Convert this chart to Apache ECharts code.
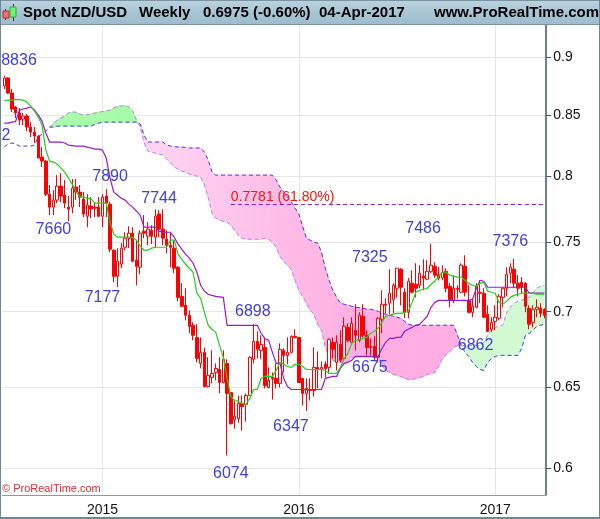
<!DOCTYPE html>
<html>
<head>
<meta charset="utf-8">
<style>
    html, body { margin: 0; padding: 0; background: #fff; }
    #chart { width: 600px; height: 519px; }
</style>
<script src="https://cdn.jsdelivr.net/npm/echarts@6/dist/echarts.min.js"></script>
</head>
<body>
<div id="chart"></div>
<script>
    //每周K线 [open, close, low, high]
    var candles = [
        [.8746,.8816,.8720,.8836],[.8816,.8686,.8678,.8824],[.8686,.8550,.8524,.8720],[.8567,.8516,.8474,.8575],
        [.8516,.8457,.8415,.8558],[.8465,.8491,.8415,.8516],[.8491,.8399,.8366,.8508],[.8399,.8358,.8317,.8440],
        [.8358,.8325,.8268,.8399],[.8325,.8146,.8146,.8333],[.8154,.8122,.8074,.8235],[.8122,.7861,.7846,.8130],
        [.7861,.7761,.7700,.7932],[.7761,.7815,.7700,.7892],[.7815,.7924,.7792,.8010],[.7924,.7846,.7800,.8026],
        [.7853,.7792,.7753,.7971],[.7761,.7746,.7654,.7846],[.7761,.7908,.7715,.7979],[.7916,.7877,.7815,.7979],
        [.7877,.7838,.7761,.7932],[.7823,.7708,.7685,.7877],[.7692,.7777,.7609,.7861],[.7769,.7746,.7677,.7838],
        [.7761,.7753,.7685,.7800],[.7761,.7692,.7685,.7838],[.7692,.7838,.7609,.7861],[.7846,.7792,.7685,.7900],
        [.7784,.7445,.7423,.7800],[.7438,.7249,.7207,.7445],[.7249,.7358,.7171,.7453],[.7336,.7453,.7307,.7490],
        [.7460,.7527,.7438,.7571],[.7527,.7564,.7453,.7616],[.7564,.7358,.7351,.7609],[.7365,.7321,.7185,.7512],
        [.7314,.7564,.7264,.7586],[.7579,.7564,.7527,.7700],[.7542,.7594,.7475,.7647],[.7586,.7542,.7483,.7624],
        [.7534,.7692,.7460,.7744],[.7708,.7594,.7534,.7738],[.7594,.7527,.7475,.7744],[.7519,.7475,.7416,.7586],
        [.7475,.7460,.7314,.7564],[.7453,.7307,.7271,.7512],[.7314,.7100,.7072,.7321],[.7107,.7038,.7031,.7200],
        [.7045,.6976,.6941,.7164],[.6976,.6900,.6853,.7010],[.6907,.6839,.6805,.6927],[.6825,.6685,.6659,.6914],
        [.6652,.6725,.6619,.6825],[.6725,.6502,.6496,.6758],[.6502,.6574,.6496,.6692],[.6561,.6587,.6522,.6738],
        [.6593,.6619,.6541,.6652],[.6612,.6528,.6458,.6692],[.6528,.6679,.6522,.6738],[.6652,.6458,.6074,.6679],
        [.6464,.6268,.6262,.6464],[.6293,.6312,.6237,.6413],[.6300,.6394,.6275,.6445],[.6394,.6375,.6225,.6445],
        [.6388,.6445,.6281,.6458],[.6445,.6692,.6445,.6699],[.6679,.6798,.6652,.6914],[.6798,.6745,.6685,.6866],
        [.6738,.6778,.6679,.6839],[.6758,.6509,.6490,.6818],[.6496,.6541,.6490,.6626],[.6561,.6554,.6419,.6593],
        [.6554,.6522,.6490,.6652],[.6522,.6745,.6496,.6785],[.6738,.6705,.6593,.6751],[.6705,.6725,.6646,.6825],
        [.6725,.6832,.6718,.6839],[.6832,.6825,.6818,.6880],[.6825,.6528,.6528,.6825],[.6554,.6458,.6382,.6554],
        [.6458,.6490,.6347,.6554],[.6483,.6477,.6413,.6554],[.6477,.6626,.6438,.6758],[.6626,.6612,.6490,.6731],
        [.6612,.6626,.6554,.6665],[.6646,.6619,.6561,.6665],[.6626,.6812,.6587,.6818],[.6792,.6745,.6685,.6825],
        [.6659,.6792,.6606,.6839],[.6778,.6672,.6659,.6873],[.6685,.6900,.6672,.6962],[.6893,.6805,.6792,.6920],
        [.6792,.6920,.6785,.6962],[.6873,.6839,.6738,.7052],[.6805,.6976,.6792,.6996],[.6969,.6839,.6825,.7052],
        [.6839,.6758,.6705,.6873],[.6765,.6758,.6705,.6818],[.6765,.6692,.6675,.6832],[.6692,.6955,.6659,.6962],
        [.6948,.7052,.6853,.7150],[.7052,.7045,.6989,.7093],[.7059,.7129,.6983,.7300],[.7086,.7185,.6989,.7200],
        [.7164,.7307,.7100,.7307],[.7300,.7171,.7045,.7307],[.7136,.6996,.6955,.7164],[.6996,.7214,.6955,.7236],
        [.7200,.7136,.7129,.7292],[.7193,.7164,.7100,.7343],[.7185,.7271,.7164,.7329],[.7249,.7236,.7150,.7372],
        [.7228,.7285,.7221,.7365],[.7285,.7329,.7271,.7486],[.7321,.7257,.7236,.7351],[.7264,.7236,.7221,.7314],
        [.7236,.7278,.7221,.7329],[.7285,.7164,.7136,.7307],[.7178,.7079,.7031,.7200],[.7079,.7164,.7059,.7257],
        [.7164,.7157,.7093,.7185],[.7136,.7329,.7129,.7343],[.7321,.7136,.7107,.7401],[.7079,.6996,.6989,.7185],
        [.6996,.7038,.6962,.7093],[.7031,.7178,.7024,.7200],[.7136,.7129,.7059,.7221],[.7129,.6962,.6955,.7164],
        [.6983,.6866,.6862,.7045],[.6880,.6927,.6862,.6962],[.6934,.6962,.6873,.7045],[.6955,.7107,.6941,.7122],
        [.7100,.7164,.7031,.7171],[.7164,.7264,.7107,.7314],[.7271,.7314,.7200,.7343],[.7300,.7200,.7164,.7376],
        [.7200,.7164,.7107,.7257],[.7207,.7171,.7129,.7243],[.7200,.7038,.6996,.7207],[.7024,.6914,.6880,.7045],
        [.6927,.7017,.6893,.7045],[.7017,.7031,.6962,.7086],[.7024,.6989,.6962,.7059],[.7017,.6975,.6955,.7024]
    ];

    var tenkan = [
        .8622,.8626,.8626,.8630,.8630,.8626,.8609,.8575,.8533,.8482,.8415,.8210,.8122,.8114,.8098,.8066,
        .8034,.7987,.7939,.7877,.7846,.7838,.7830,.7823,.7792,.7792,.7792,.7792,.7647,.7556,.7534,.7534,
        .7534,.7534,.7534,.7512,.7468,.7438,.7438,.7453,.7460,.7460,.7460,.7460,.7512,.7512,.7409,.7372,
        .7336,.7307,.7278,.7129,.7093,.6996,.6907,.6880,.6859,.6771,.6692,.6554,.6438,.6413,.6407,.6394,
        .6388,.6426,.6483,.6483,.6554,.6567,.6567,.6567,.6606,.6659,.6646,.6632,.6626,.6646,.6646,.6632,
        .6612,.6612,.6612,.6612,.6612,.6606,.6587,.6587,.6587,.6626,.6685,.6718,.6785,.6805,.6812,.6818,
        .6825,.6853,.6866,.6887,.6927,.6969,.6976,.6983,.6989,.6989,.6996,.7003,.7065,.7136,.7150,.7157,
        .7164,.7193,.7214,.7249,.7278,.7278,.7257,.7249,.7243,.7243,.7221,.7200,.7185,.7178,.7200,.7207,
        .7143,.7136,.7129,.7065,.7052,.7072,.7100,.7114,.7122,.7129,.7129,.7129,.7129,.7122,.7122,.7122
    ];

    var kijun = [
        .8432,.8432,.8440,.8445,.8541,.8550,.8558,.8567,.8541,.8499,.8449,.8350,.8276,.8276,.8276,.8276,
        .8268,.8251,.8247,.8243,.8243,.8243,.8235,.8227,.8218,.8218,.8210,.8146,.7987,.7877,.7853,.7830,
        .7815,.7784,.7761,.7730,.7700,.7609,.7609,.7609,.7609,.7579,.7571,.7571,.7571,.7534,.7483,.7445,
        .7409,.7380,.7343,.7278,.7185,.7143,.7122,.7114,.7107,.7104,.7100,.6907,.6907,.6907,.6907,.6907,
        .6907,.6907,.6907,.6907,.6853,.6818,.6805,.6725,.6652,.6652,.6554,.6502,.6483,.6483,.6483,.6483,
        .6483,.6483,.6483,.6483,.6483,.6554,.6561,.6567,.6567,.6619,.6652,.6659,.6672,.6698,.6698,.6698,
        .6698,.6698,.6698,.6698,.6751,.6792,.6818,.6818,.6825,.6825,.6866,.6880,.6893,.6907,.6914,.6941,
        .6969,.7031,.7065,.7079,.7079,.7079,.7079,.7079,.7079,.7079,.7079,.7079,.7086,.7164,.7221,.7214,
        .7171,.7171,.7171,.7171,.7171,.7171,.7171,.7171,.7171,.7171,.7171,.7129,.7129,.7129,.7129,.7129
    ];

    //云层上下两条线
    var spanBlue = [
        .8235,.8260,.8268,.8260,.8243,.8243,.8243,.8243,.8251,.8317,.8342,.8366,.8399,.8399,.8407,.8407,
        .8407,.8407,.8407,.8407,.8407,.8407,.8407,.8407,.8424,.8432,.8440,.8440,.8440,.8440,.8440,.8440,
        .8440,.8440,.8440,.8440,.8424,.8333,.8276,.8276,.8276,.8276,.8276,.8251,.8243,.8239,.8235,.8235,
        .8231,.8227,.8227,.8227,.8227,.8194,.8130,.8034,.8010,.8010,.8010,.8010,.8010,.8010,.8010,.8010,
        .8010,.8010,.8010,.8010,.8010,.8010,.8010,.8010,.7971,.7916,.7877,.7838,.7800,.7753,.7708,.7616,
        .7527,.7512,.7497,.7490,.7423,.7307,.7221,.7150,.7100,.7059,.7052,.7045,.7038,.7031,.7028,.7024,
        .7017,.7017,.7010,.7003,.6989,.6983,.6976,.6969,.6962,.6955,.6934,.6914,.6907,.6907,.6907,.6907,
        .6907,.6907,.6907,.6907,.6907,.6907,.6907,.6907,.6839,.6771,.6725,.6698,.6659,.6632,.6612,.6606,
        .6659,.6685,.6698,.6705,.6705,.6705,.6705,.6705,.6705,.6751,.6839,.6853,.6873,.6900,.6907,.6914
    ];

    var spanViolet = [
        null,null,null,null,null,null,null,null,null,null,null,null,.8399,.8424,.8457,.8474,
        .8491,.8516,.8524,.8524,.8508,.8499,.8503,.8508,.8516,.8524,.8528,.8533,.8541,.8558,.8575,.8575,
        .8579,.8567,.8533,.8457,.8399,.8276,.8202,.8194,.8186,.8178,.8170,.8138,.8106,.8074,.8058,.8042,
        .8034,.8018,.8010,.8002,.7995,.7932,.7838,.7715,.7677,.7662,.7654,.7647,.7624,.7586,.7549,.7527,
        .7519,.7519,.7519,.7519,.7519,.7527,.7519,.7497,.7460,.7394,.7358,.7329,.7300,.7221,.7150,.7107,
        .7059,.7010,.6983,.6914,.6873,.6765,.6692,.6672,.6665,.6659,.6652,.6672,.6692,.6695,.6695,.6695,
        .6695,.6695,.6695,.6685,.6639,.6606,.6593,.6580,.6574,.6567,.6554,.6548,.6548,.6554,.6561,.6567,
        .6580,.6587,.6593,.6632,.6685,.6711,.6731,.6758,.6771,.6771,.6771,.6771,.6771,.6771,.6771,.6792,
        .6839,.6880,.6893,.6900,.6907,.6989,.7031,.7059,.7072,.7079,.7093,.7100,.7129,.7164,.7178,.7185
    ];

    var priceTicks = [0.6, 0.65, 0.7, 0.75, 0.8, 0.85, 0.9];
    var yearTicks = ['2015-01-05', '2016-01-04', '2017-01-02'];

    //波段标注
    var pivotText = ['8836', '2', '7890', '7744', '7660', '7177', '6898', '6074', '6347', '7325', '7486', '6675', '7376', '6862'];
    var pivotWeek = [3.9, 0.45, 28, 41, 13, 26, 65.8, 60, 75.9, 96.8, 110.9, 96.8, 134, 124.8];
    var pivotPrice = [.8965, .8332, .7995, .7830, .7594, .7100, .7003, .5969, .6252, .7382, .7601, .6626, .7505, .6771];

    var fibPrice = 0.7781;
    var fibStart = 60;
    var fibText = '0.7781 (61.80%)';

    //周线日期
    var weeks = [];
    for (var w = 0; w < candles.length; w++) {
        weeks.push(new Date(Date.UTC(2014, 6, 7 + w * 7)).toISOString().slice(0, 10));
    }

    var pivots = [];
    for (var p = 0; p < pivotText.length; p++) {
        pivots.push({ value: [pivotWeek[p], pivotPrice[p]], label: { formatter: pivotText[p] } });
    }

    function isYearTick(index, value) {
        return yearTicks.indexOf(value) >= 0;
    }

    //粉色从左到右逐渐加深
    function cloudColor(i, isGreen) {
        if (isGreen) return i < 60 ? '#a8fba8' : '#d2fad2';
        var t = Math.max(0, Math.min(1, (i - 40) / 55));
        var g = Math.round(0xd3 + (0xae - 0xd3) * t);
        var b = Math.round(0xf0 + (0xe2 - 0xf0) * t);
        return 'rgb(254,' + g + ',' + b + ')';
    }

    function polygon(points, color) {
        return {
            type: 'polygon',
            shape: { points: points },
            style: { fill: color, stroke: color, lineWidth: 1 }
        };
    }

    //云层填充,穿越处拆成两个三角形
    function renderCloud(params, api) {
        var i = params.dataIndex;
        var a0 = spanViolet[i], a1 = spanViolet[i + 1];
        if (a0 == null || a1 == null) return;
        var b0 = spanBlue[i], b1 = spanBlue[i + 1];
        var pa0 = api.coord([i, a0]), pa1 = api.coord([i + 1, a1]);
        var pb0 = api.coord([i, b0]), pb1 = api.coord([i + 1, b1]);
        var d0 = pb0[1] - pa0[1], d1 = pb1[1] - pa1[1];
        if (d0 * d1 >= 0) {
            return polygon([pa0, pa1, pb1, pb0], cloudColor(i, d0 + d1 > 0));
        }
        var t = d0 / (d0 - d1);
        var cross = [pa0[0] + (pa1[0] - pa0[0]) * t, pa0[1] + (pa1[1] - pa0[1]) * t];
        return {
            type: 'group',
            children: [
                polygon([pa0, cross, pb0], cloudColor(i, d0 > 0)),
                polygon([cross, pa1, pb1], cloudColor(i, d1 > 0))
            ]
        };
    }

    function headerText(text, x) {
        return {
            type: 'text', x: x, y: 13, z: 10,
            style: { text: text, fill: '#000', font: 'bold 15px "Liberation Sans", Arial, sans-serif', textVerticalAlign: 'middle' }
        };
    }

    var chart = echarts.init(document.getElementById('chart'), null, { renderer: 'canvas' });
    chart.setOption({
        animation: false,
        backgroundColor: '#fff',
        grid: { left: 2.4, top: 25, width: 543.8, height: 470 },
        xAxis: [
            {
                type: 'category',
                data: weeks,
                position: 'bottom',
                axisLine: { onZero: false, lineStyle: { color: '#8a9aa6', width: 1 } },
                axisTick: { alignWithLabel: true, interval: isYearTick, length: 5, lineStyle: { color: '#555' } },
                axisLabel: {
                    interval: isYearTick,
                    formatter: function (v) { return v.slice(0, 4); },
                    color: '#111', fontSize: 14, fontFamily: 'Liberation Sans', margin: 8
                },
                splitLine: { show: true, interval: isYearTick, alignWithLabel: true, lineStyle: { color: '#e6e6e6', width: 1 } }
            },
            { type: 'value', show: false, min: -0.5, max: 143.5, splitLine: { show: false } }
        ],
        yAxis: {
            type: 'log',
            position: 'right',
            min: 0.5842,
            max: 0.9289,
            axisLine: { show: true, onZero: false, lineStyle: { color: '#708090', width: 2 } },
            axisTick: { show: true, length: 5, customValues: priceTicks, lineStyle: { color: '#555' } },
            axisLabel: {
                customValues: priceTicks,
                color: '#111', fontSize: 14, fontFamily: 'Liberation Sans', margin: 7,
                formatter: function (v) { return String(+(+v).toFixed(2)); }
            },
            splitLine: { show: true, lineStyle: { color: '#e6e6e6', width: 1 } },
            minorSplitLine: { show: false }
        },
        series: [
            {
                type: 'custom',
                name: 'cloud',
                coordinateSystem: 'cartesian2d',
                data: weeks.map(function (d, i) { return i; }),
                renderItem: renderCloud,
                encode: { x: 0 },
                silent: true,
                z: 1
            },
            {
                type: 'line', name: 'spanViolet', data: spanViolet, symbol: 'none', z: 2,
                lineStyle: { color: '#c27cf0', width: 1, type: [4, 3] }
            },
            {
                type: 'line', name: 'spanBlue', data: spanBlue, symbol: 'none', z: 2,
                lineStyle: { color: '#3c3cee', width: 1, type: [4, 3] }
            },
            {
                type: 'line', name: 'fib', symbol: 'none', z: 3,
                data: weeks.map(function (d, i) { return i >= fibStart ? fibPrice : null; }),
                lineStyle: { color: '#8a14d8', width: 1, type: [4, 3] }
            },
            {
                type: 'candlestick', name: 'NZD/USD', data: candles, barWidth: 3, z: 4,
                itemStyle: {
                    color: '#fff', color0: '#ff0000',
                    borderColor: '#ff0000', borderColor0: '#ff0000', borderColorDoji: '#ff0000', borderWidth: 1
                }
            },
            {
                type: 'line', name: 'kijun', data: kijun, symbol: 'none', z: 5,
                lineStyle: { color: '#9a18cc', width: 1.2 }
            },
            {
                type: 'line', name: 'tenkan', data: tenkan, symbol: 'none', z: 6,
                lineStyle: { color: '#1fd01f', width: 1.2 }
            },
            {
                type: 'scatter', name: 'pivots', xAxisIndex: 1, data: pivots, symbolSize: 0, z: 7, silent: true,
                itemStyle: { opacity: 1 },
                label: { show: true, position: 'inside', color: '#4040dc', opacity: 1, textBorderWidth: 0, fontSize: 16, fontFamily: 'Liberation Sans' }
            },
            {
                type: 'scatter', name: 'fibLabel', xAxisIndex: 1, symbolSize: 0, z: 7, silent: true,
                itemStyle: { opacity: 1 },
                data: [{ value: [fibStart, fibPrice], label: { formatter: fibText } }],
                label: { show: true, position: 'right', distance: 0, offset: [0, -7], color: '#ff1111', opacity: 1, textBorderWidth: 0, fontSize: 14, fontFamily: 'Liberation Sans' }
            }
        ],
        graphic: [
            {
                type: 'rect', shape: { x: 0, y: 0, width: 600, height: 24 }, z: 9,
                style: {
                    fill: new echarts.graphic.LinearGradient(0, 0, 0, 1, [
                        { offset: 0, color: '#bcd3df' }, { offset: 0.5, color: '#a9c5d4' }, { offset: 1, color: '#9dbccc' }
                    ])
                }
            },
            { type: 'rect', shape: { x: 0, y: 24, width: 600, height: 1 }, z: 9, style: { fill: '#7b939f' } },
            { type: 'rect', shape: { x: 0, y: 0, width: 600, height: 1 }, z: 9, style: { fill: '#7b939f' } },
            { type: 'rect', shape: { x: 0, y: 0, width: 1, height: 519 }, z: 9, style: { fill: '#6f8795' } },
            { type: 'rect', shape: { x: 599, y: 0, width: 1, height: 519 }, z: 9, style: { fill: '#6f8795' } },
            { type: 'rect', shape: { x: 0, y: 517, width: 600, height: 2 }, z: 9, style: { fill: '#6f8795' } },
            { type: 'rect', shape: { x: 5, y: 9, width: 1, height: 11 }, z: 10, style: { fill: '#333' } },
            { type: 'rect', shape: { x: 3, y: 11, width: 6, height: 7 }, z: 10, style: { fill: '#f07070', stroke: '#a33', lineWidth: 1 } },
            { type: 'rect', shape: { x: 13, y: 4, width: 1, height: 17 }, z: 10, style: { fill: '#333' } },
            { type: 'rect', shape: { x: 10, y: 7, width: 6, height: 10 }, z: 10, style: { fill: '#70f070', stroke: '#3a3', lineWidth: 1 } },
            headerText('Spot NZD/USD', 23),
            headerText('Weekly', 139),
            headerText('0.6975 (-0.60%)', 203),
            headerText('04-Apr-2017', 319),
            headerText('www.ProRealTime.com', 434),
            {
                type: 'text', x: 2, y: 489, z: 10,
                style: { text: '© ProRealTime.com', fill: '#e03030', font: '11px "Liberation Sans", Arial, sans-serif', textVerticalAlign: 'middle' }
            }
        ]
    });
</script>
</body>
</html>
